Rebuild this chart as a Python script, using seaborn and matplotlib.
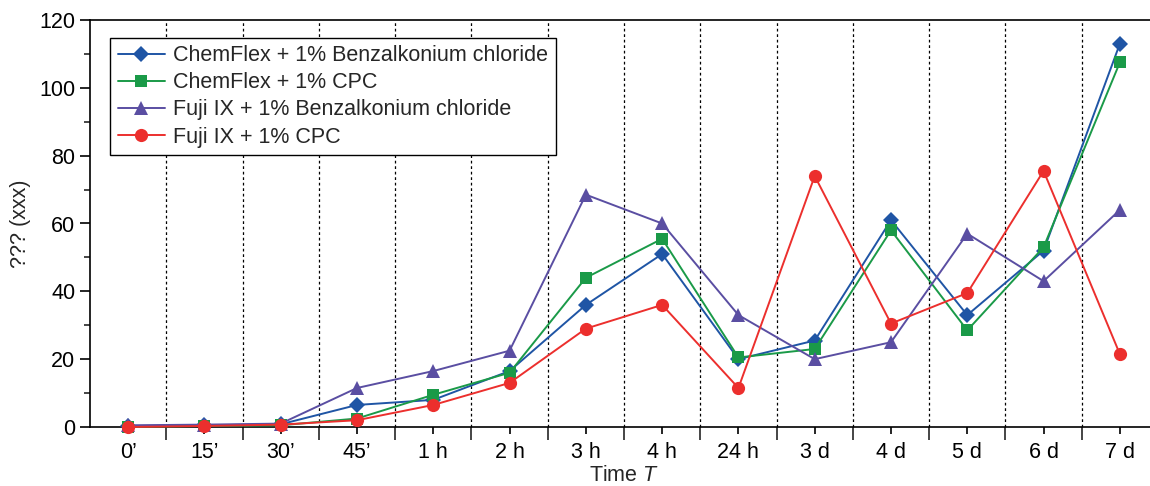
import numpy as np
import pandas as pd
import matplotlib
matplotlib.use("Agg")
import matplotlib.pyplot as plt
from matplotlib.ticker import MultipleLocator, FixedLocator
import seaborn as sns

categories = ["0\u2019", "15\u2019", "30\u2019", "45\u2019", "1 h", "2 h", "3 h", "4 h",
              "24 h", "3 d", "4 d", "5 d", "6 d", "7 d"]
series_names = ["ChemFlex + 1% Benzalkonium chloride", "ChemFlex + 1% CPC",
                "Fuji IX + 1% Benzalkonium chloride", "Fuji IX + 1% CPC"]
chemflex_bac = [0.3, 0.5, 0.8, 6.5, 8.0, 16.5, 36.0, 51.0, 20.0, 25.5, 61.0, 33.0, 52.0, 113.0]
chemflex_cpc = [0.0, 0.3, 0.5, 2.5, 9.5, 16.0, 44.0, 55.5, 20.5, 23.0, 58.0, 28.5, 53.0, 107.5]
fuji_bac = [0.5, 0.7, 1.0, 11.5, 16.5, 22.5, 68.5, 60.0, 33.0, 20.0, 25.0, 57.0, 43.0, 64.0]
fuji_cpc = [0.0, 0.3, 0.7, 2.0, 6.5, 13.0, 29.0, 36.0, 11.5, 74.0, 30.5, 39.5, 75.5, 21.5]

colors = ["#1f55a5", "#1a9a48", "#5a4ea2", "#ec2f2d"]
markers = ["D", "s", "^", "o"]

rows = []
for name, vals in zip(series_names, [chemflex_bac, chemflex_cpc, fuji_bac, fuji_cpc]):
    for i, v in enumerate(vals):
        rows.append({"pos": i, "value": v, "series": name})
df = pd.DataFrame(rows)

sns.set_style("ticks")
plt.rcParams["font.family"] = ["Liberation Sans", "DejaVu Sans"]
plt.rcParams["mathtext.fontset"] = "custom"
plt.rcParams["mathtext.it"] = "Liberation Sans:italic"
plt.rcParams["mathtext.rm"] = "Liberation Sans"

FS = 15.5
fig = plt.figure(figsize=(11.5, 4.86), dpi=100)
ax = fig.add_axes([90 / 1150, 1 - 427 / 486, 1068 / 1150, 407 / 486])

# dotted vertical separators
for b in np.arange(0.5, len(categories) - 0.5, 1.0):
    ax.axvline(b, color="black", lw=0.9, ls=(0, (2.2, 2.2)), zorder=1)

sns.lineplot(data=df, x="pos", y="value", hue="series", style="series",
             hue_order=series_names, style_order=series_names,
             palette=dict(zip(series_names, colors)),
             markers=dict(zip(series_names, markers)),
             dashes=False, linewidth=1.4, markersize=9, markeredgewidth=0,
             ax=ax, zorder=3, clip_on=False)

size_by_marker = {"D": 8.5, "s": 8.5, "^": 10.5, "o": 9.5}
for ln in ax.lines:
    m = ln.get_marker()
    if m in size_by_marker:
        ln.set_markersize(size_by_marker[m])

ax.set_xlim(-0.5, len(categories) - 0.5)
ax.set_ylim(0, 120)
ax.xaxis.set_major_locator(FixedLocator(range(len(categories))))
ax.set_xticklabels(categories)
ax.xaxis.set_minor_locator(FixedLocator(np.arange(0.5, len(categories) - 0.5, 1.0)))
ax.yaxis.set_major_locator(MultipleLocator(20))
ax.yaxis.set_minor_locator(MultipleLocator(10))
ax.tick_params(axis="x", which="major", length=5, width=1.2, direction="out", labelsize=FS, pad=6, colors="black")
ax.tick_params(axis="x", which="minor", length=9, width=1.2, direction="out")
ax.tick_params(axis="y", which="major", length=7, width=1.2, direction="out", labelsize=FS, colors="black")
ax.tick_params(axis="y", which="minor", length=4, width=1.2, direction="out")
for s in ["left", "bottom", "top", "right"]:
    ax.spines[s].set_linewidth(1.2)
    ax.spines[s].set_color("black")

ax.set_xlabel("Time $T$", fontsize=FS, labelpad=1.5)
ax.set_ylabel("??? (xxx)", fontsize=FS, labelpad=6)

leg = ax.legend(loc="upper left", bbox_to_anchor=(0.0187, 0.956), borderaxespad=0,
                fontsize=FS, frameon=True, fancybox=False, edgecolor="black", framealpha=1,
                handlelength=2.2, borderpad=0.35, labelspacing=0.28, handletextpad=0.4)
leg.get_frame().set_linewidth(1.0)
leg.set_zorder(5)
for h in leg.legend_handles:
    m = h.get_marker()
    if m in size_by_marker:
        h.set_markersize(size_by_marker[m])

fig.savefig("out.png", dpi=100)
